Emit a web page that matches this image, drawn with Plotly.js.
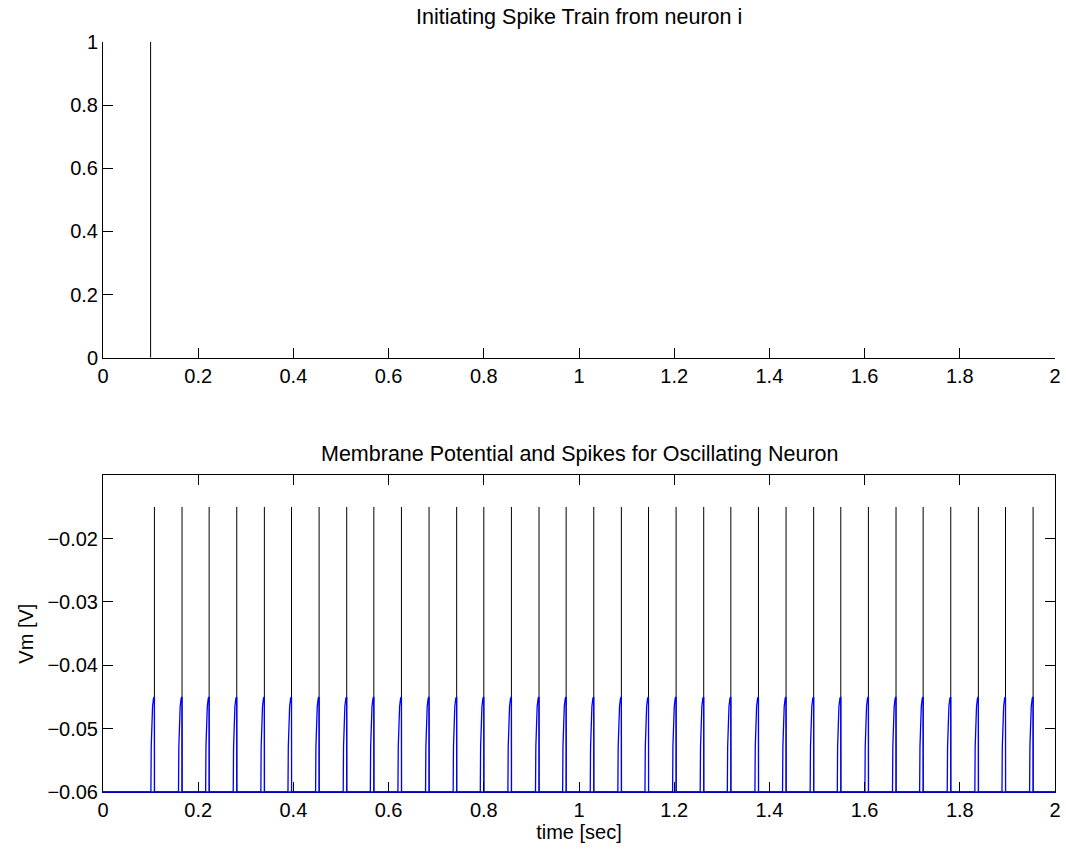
<!DOCTYPE html>
<html>
<head>
<meta charset="utf-8">
<script src="https://cdn.plot.ly/plotly-3.0.1.min.js"></script>
<style>
html,body{margin:0;padding:0;background:#fff;}
#chart{width:1066px;height:850px;}
</style>
</head>
<body>
<div id="chart"></div>
<script>
// ---- data ----
// top panel: initiating spike train
var inputSpikeTimes = [0.1];
var inputSpikeHeights = [1];

// bottom panel: output spike times (s)
var outputSpikeTimes = [0.108, 0.166, 0.223, 0.281, 0.339, 0.396, 0.454, 0.512, 0.569, 0.627,
  0.685, 0.743, 0.800, 0.858, 0.916, 0.973, 1.031, 1.089, 1.146, 1.204, 1.262, 1.319, 1.377,
  1.435, 1.493, 1.550, 1.608, 1.666, 1.723, 1.781, 1.839, 1.896, 1.954];
var spikePeakV = -0.015;   // top of black spike lines
var restV = -0.06;         // resting/reset membrane potential
// membrane potential shape around each spike (offset from spike time, volts)
var riseOffsets = [-0.0074, -0.0067, -0.0053, -0.0039, -0.0018, 0.0, 0.0002];
var riseVolts   = [-0.060, -0.0529, -0.0486, -0.0465, -0.0452, -0.045, -0.060];
var timeStart = 0, timeEnd = 2;

// ---- build traces ----
var topX = [], topY = [];
inputSpikeTimes.forEach(function(t, i){ topX.push(t, t, null); topY.push(0, inputSpikeHeights[i], null); });

var spkX = [], spkY = [];
outputSpikeTimes.forEach(function(t){ spkX.push(t, t, null); spkY.push(restV, spikePeakV, null); });

var vmX = [timeStart], vmY = [restV];
outputSpikeTimes.forEach(function(t){
  for (var k = 0; k < riseOffsets.length; k++) { vmX.push(t + riseOffsets[k]); vmY.push(riseVolts[k]); }
});
vmX.push(timeEnd); vmY.push(restV);

var FONT = "Liberation Sans, Arial, Helvetica, sans-serif";

var data = [
  {x: topX, y: topY, xaxis: 'x', yaxis: 'y', mode: 'lines', line: {color: '#000', width: 1}, hoverinfo: 'skip'},
  {x: spkX, y: spkY, xaxis: 'x2', yaxis: 'y2', mode: 'lines', line: {color: '#000', width: 1}, hoverinfo: 'skip'},
  {x: vmX, y: vmY, xaxis: 'x2', yaxis: 'y2', mode: 'lines', line: {color: '#0000ff', width: 1.3}, hoverinfo: 'skip'}
];

var axBase = {
  showgrid: false, zeroline: false, showline: true, linecolor: '#000', linewidth: 1,
  ticks: 'inside', ticklen: 10, tickwidth: 1, tickcolor: '#000',
  tickfont: {family: FONT, size: 20, color: '#000'}
};
function ax(extra){ return Object.assign({}, axBase, extra); }

var layout = {
  width: 1066, height: 850,
  paper_bgcolor: '#fff', plot_bgcolor: '#fff',
  showlegend: false,
  margin: {l: 103, r: 11, t: 42, b: 58},
  font: {family: FONT, color: '#000'},
  xaxis: ax({domain: [0, 1], anchor: 'y', range: [0, 2], tickvals: [0, 0.2, 0.4, 0.6, 0.8, 1, 1.2, 1.4, 1.6, 1.8, 2],
             ticktext: ['0','0.2','0.4','0.6','0.8','1','1.2','1.4','1.6','1.8','2'], mirror: false}),
  yaxis: ax({domain: [0.579, 1], anchor: 'x', range: [0, 1], tickvals: [0, 0.2, 0.4, 0.6, 0.8, 1],
             ticktext: ['0','0.2','0.4','0.6','0.8','1'], mirror: false}),
  xaxis2: ax({domain: [0, 1], anchor: 'y2', range: [0, 2], tickvals: [0, 0.2, 0.4, 0.6, 0.8, 1, 1.2, 1.4, 1.6, 1.8, 2],
             ticktext: ['0','0.2','0.4','0.6','0.8','1','1.2','1.4','1.6','1.8','2'], mirror: 'ticks',
             title: {text: 'time [sec]', font: {family: FONT, size: 20, color: '#000'}, standoff: 4}}),
  yaxis2: ax({domain: [0, 0.4223], anchor: 'x2', range: [-0.06, -0.01], tickvals: [-0.06, -0.05, -0.04, -0.03, -0.02],
             ticktext: ['\u22120.06','\u22120.05','\u22120.04','\u22120.03','\u22120.02'], mirror: 'ticks',
             title: {text: 'Vm [V]', font: {family: FONT, size: 20, color: '#000'}, standoff: 8}}),
  // the resting blue trace lies on the bottom border in the reference (paper ref so it is not clipped)
  shapes: [
    {type: 'line', xref: 'paper', yref: 'paper', x0: 0, x1: 1, y0: 0, y1: 0, line: {color: '#0000ff', width: 1.4}, layer: 'above'}
  ],
  annotations: [
    {text: 'Initiating Spike Train from neuron i', xref: 'paper', yref: 'paper', x: 0.5, y: 1, yshift: 11,
     xanchor: 'center', yanchor: 'bottom', showarrow: false, font: {family: FONT, size: 21.5, color: '#000'}},
    {text: 'Membrane Potential and Spikes for Oscillating Neuron', xref: 'paper', yref: 'paper', x: 0.5, y: 0.4223, yshift: 7,
     xanchor: 'center', yanchor: 'bottom', showarrow: false, font: {family: FONT, size: 21.5, color: '#000'}}
  ]
};

Plotly.newPlot('chart', data, layout, {staticPlot: true, displayModeBar: false});
</script>
</body>
</html>
